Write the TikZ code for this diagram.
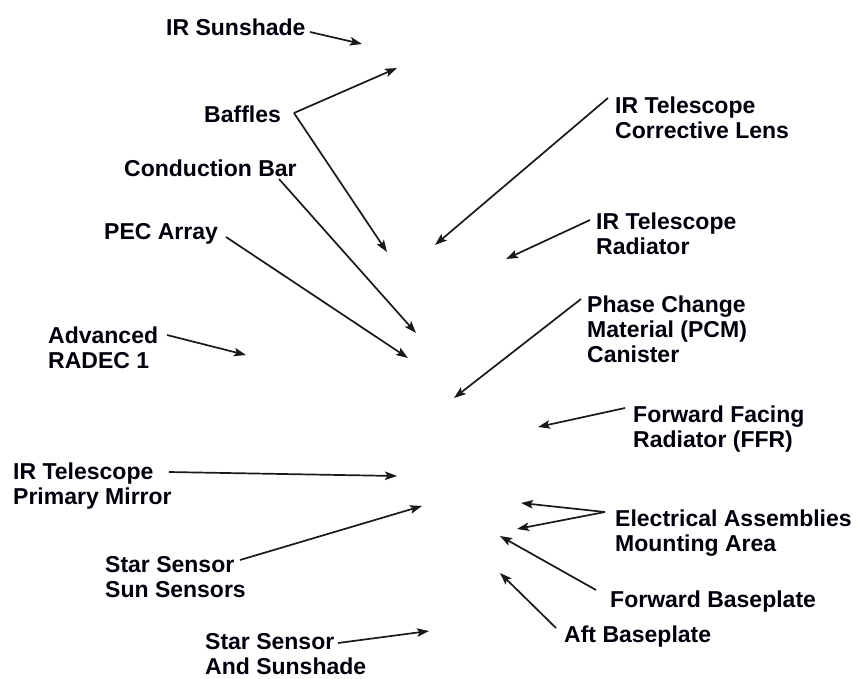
\documentclass[tikz,border=0pt]{standalone}
\usepackage{fontspec}
\setmainfont{Liberation Sans}
\usetikzlibrary{arrows.meta}
\begin{document}
\begin{tikzpicture}[x=1pt,y=-1pt,
  lbl/.style={anchor=base west,inner sep=0pt,align=left,text=black!95!blue,
    font=\fontsize{23}{25}\selectfont\bfseries},
  ptr/.style={line width=1.7pt,draw=black!90,
    -{Stealth[length=12pt,width=8.5pt,inset=2.5pt]}}]
\useasboundingbox[fill=white] (0,0) rectangle (857,678);

% ---- labels, left column (placed at the baseline of their last line)
\node[lbl] (sunshade) at (166,35) {IR Sunshade};
\node[lbl] (baffles) at (204,122) {Baffles};
\node[lbl] (cbar) at (124,176) {Conduction Bar};
\node[lbl] (pec) at (104,239) {PEC Array};
\node[lbl] (radec) at (48,368) {Advanced\\RADEC 1};
\node[lbl] (primary) at (13,504) {IR Telescope\\Primary Mirror};
\node[lbl] (sunsens) at (105,597) {Star Sensor\\Sun Sensors};
\node[lbl] (starshade) at (205,674) {Star Sensor\\And Sunshade};

% ---- labels, right column
\node[lbl] (lens) at (615,138) {IR Telescope\\Corrective Lens};
\node[lbl] (irrad) at (596,254) {IR Telescope\\Radiator};
\node[lbl] (pcm) at (587,362) {Phase Change\\Material (PCM)\\Canister};
\node[lbl] (ffr) at (633,447) {Forward Facing\\Radiator (FFR)};
\node[lbl] (elec) at (615,551) {Electrical Assemblies\\Mounting Area};
\node[lbl] (fwdbase) at (610,607) {Forward Baseplate};
\node[lbl] (aftbase) at (564,642) {Aft Baseplate};

% ---- leader start points
\coordinate (sunshade-s) at (310,32);
\coordinate (baffles-s) at (294,113);
\coordinate (cbar-s) at (279,179);
\coordinate (pec-s) at (226,237);
\coordinate (radec-s) at (167,335);
\coordinate (primary-s) at (169,472);
\coordinate (sunsens-s) at (240,560);
\coordinate (starshade-s) at (338,643);
\coordinate (lens-s) at (608,98);
\coordinate (irrad-s) at (590,220);
\coordinate (pcm-s) at (581,299);
\coordinate (ffr-s) at (625,408);
\coordinate (elec-s) at (605,512);
\coordinate (fwdbase-s) at (596,590);
\coordinate (aftbase-s) at (556,628);

% ---- leader targets
\coordinate (sunshade-t) at (362,44);
\coordinate (baffles-t1) at (397,68);
\coordinate (baffles-t2) at (387,252);
\coordinate (cbar-t) at (416,333);
\coordinate (pec-t) at (408,358);
\coordinate (radec-t) at (246,355);
\coordinate (primary-t) at (397,476);
\coordinate (sunsens-t) at (422,506);
\coordinate (starshade-t) at (429,631);
\coordinate (lens-t) at (435,245);
\coordinate (irrad-t) at (506,259);
\coordinate (pcm-t) at (454,398);
\coordinate (ffr-t) at (538,427);
\coordinate (elec-t1) at (521,503);
\coordinate (elec-t2) at (517,529);
\coordinate (fwdbase-t) at (500,536);
\coordinate (aftbase-t) at (500,573);

% ---- leaders
\draw[ptr] (sunshade-s) -- (sunshade-t);
\draw[ptr] (baffles-s) -- (baffles-t1);
\draw[ptr] (baffles-s) -- (baffles-t2);
\draw[ptr] (cbar-s) -- (cbar-t);
\draw[ptr] (pec-s) -- (pec-t);
\draw[ptr] (radec-s) -- (radec-t);
\draw[ptr] (primary-s) -- (primary-t);
\draw[ptr] (sunsens-s) -- (sunsens-t);
\draw[ptr] (starshade-s) -- (starshade-t);
\draw[ptr] (lens-s) -- (lens-t);
\draw[ptr] (irrad-s) -- (irrad-t);
\draw[ptr] (pcm-s) -- (pcm-t);
\draw[ptr] (ffr-s) -- (ffr-t);
\draw[ptr] (elec-s) -- (elec-t1);
\draw[ptr] (elec-s) -- (elec-t2);
\draw[ptr] (fwdbase-s) -- (fwdbase-t);
\draw[ptr] (aftbase-s) -- (aftbase-t);
\end{tikzpicture}
\end{document}
